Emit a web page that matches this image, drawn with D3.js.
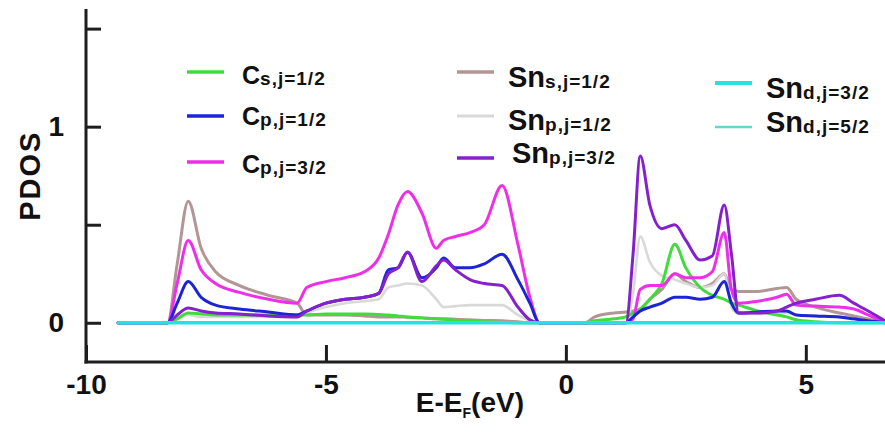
<!DOCTYPE html>
<html>
<head>
<meta charset="utf-8">
<script src="https://cdn.jsdelivr.net/npm/d3@7"></script>
<style>
  html, body { margin: 0; padding: 0; background: #fff; }
  svg { display: block; font-family: "Liberation Sans", Arial, sans-serif; }
</style>
</head>
<body>
<svg id="chart" width="885" height="433"></svg>
<script>
// Energy grid relative to the Fermi level (eV)
const energy = [-9.33, -8.3, -8.1, -7.87, -7.6, -7.3, -6.8, -6.2, -5.6, -5.4,
  -5.0, -4.6, -4.2, -3.9, -3.7, -3.5, -3.3, -3.0, -2.7, -2.55,
  -2.3, -2.0, -1.7, -1.33, -1.0, -0.75, -0.55, 0.4, 0.6, 1.0,
  1.25, 1.4, 1.55, 1.75, 2.0, 2.27, 2.5, 2.8, 3.05, 3.3,
  3.45, 3.6, 4.0, 4.4, 4.6, 4.8, 5.2, 5.7, 6.0, 6.3, 6.65];

// Projected DOS per orbital channel
const cS12 = [0, 0, 0.02, 0.05, 0.045, 0.04, 0.04, 0.04, 0.04, 0.04,
  0.045, 0.045, 0.045, 0.042, 0.04, 0.035, 0.03, 0.025, 0.02, 0.018,
  0.012, 0.008, 0.005, 0.002, 0, 0, 0, 0, 0.01, 0.02,
  0.03, 0.05, 0.07, 0.12, 0.2, 0.4, 0.28, 0.18, 0.14, 0.12,
  0.1, 0.09, 0.06, 0.04, 0.03, 0.015, 0.005, 0, 0, 0, 0];
const cP12 = [0, 0, 0.1, 0.21, 0.13, 0.09, 0.07, 0.055, 0.04, 0.06,
  0.1, 0.12, 0.13, 0.15, 0.27, 0.28, 0.36, 0.23, 0.28, 0.33,
  0.28, 0.28, 0.3, 0.35, 0.22, 0.1, 0, 0, 0, 0,
  0, 0.03, 0.06, 0.08, 0.1, 0.13, 0.13, 0.12, 0.13, 0.21,
  0.1, 0.05, 0.055, 0.06, 0.06, 0.04, 0.035, 0.03, 0.02, 0.01, 0];
const cP32 = [0, 0, 0.2, 0.42, 0.27, 0.2, 0.155, 0.12, 0.1, 0.18,
  0.21, 0.23, 0.26, 0.33, 0.45, 0.6, 0.67, 0.56, 0.38, 0.42,
  0.44, 0.46, 0.5, 0.7, 0.4, 0.13, 0, 0, 0, 0,
  0, 0.02, 0.17, 0.19, 0.19, 0.25, 0.23, 0.23, 0.26, 0.46,
  0.17, 0.1, 0.11, 0.13, 0.145, 0.09, 0.085, 0.08, 0.07, 0.04, 0];
const snS12 = [0, 0, 0.3, 0.62, 0.38, 0.26, 0.19, 0.14, 0.1, 0.04,
  0.04, 0.04, 0.035, 0.03, 0.03, 0.03, 0.028, 0.025, 0.02, 0.02,
  0.018, 0.015, 0.012, 0.01, 0.005, 0, 0, 0, 0.03, 0.05,
  0.055, 0.06, 0.07, 0.12, 0.17, 0.25, 0.21, 0.18, 0.2, 0.25,
  0.17, 0.16, 0.16, 0.175, 0.18, 0.12, 0.08, 0.05, 0.035, 0.02, 0];
const snP12 = [0, 0, 0.02, 0.04, 0.03, 0.03, 0.03, 0.03, 0.03, 0.05,
  0.08, 0.1, 0.11, 0.12, 0.18, 0.19, 0.2, 0.19, 0.12, 0.08,
  0.085, 0.09, 0.09, 0.09, 0.04, 0.01, 0, 0, 0, 0,
  0, 0.15, 0.44, 0.31, 0.24, 0.22, 0.2, 0.18, 0.19, 0.25,
  0.08, 0.045, 0.045, 0.05, 0.05, 0.04, 0.035, 0.03, 0.02, 0.01, 0];
const snP32 = [0, 0, 0.04, 0.075, 0.06, 0.05, 0.045, 0.035, 0.03, 0.06,
  0.1, 0.12, 0.13, 0.15, 0.25, 0.28, 0.36, 0.21, 0.29, 0.32,
  0.27, 0.22, 0.2, 0.19, 0.08, 0.015, 0, 0, 0, 0,
  0, 0.35, 0.85, 0.6, 0.48, 0.5, 0.42, 0.32, 0.34, 0.6,
  0.35, 0.05, 0.05, 0.06, 0.08, 0.1, 0.12, 0.14, 0.1, 0.06, 0.01];
const snD32 = [0, 0, 0, 0, 0, 0, 0, 0, 0, 0,
  0, 0, 0, 0, 0, 0, 0, 0, 0, 0,
  0, 0, 0, 0, 0, 0, 0, 0, 0, 0,
  0, 0, 0, 0, 0, 0, 0, 0, 0, 0,
  0, 0, 0, 0, 0, 0, 0, 0, 0, 0, 0];
const snD52 = [0, 0, 0, 0, 0, 0, 0, 0, 0, 0,
  0, 0, 0, 0, 0, 0, 0, 0, 0, 0,
  0, 0, 0, 0, 0, 0, 0, 0, 0, 0,
  0, 0, 0, 0, 0, 0, 0, 0, 0, 0,
  0, 0, 0, 0, 0, 0, 0, 0, 0, 0, 0];

const xTicks = [-10, -5, 0, 5];
const yTicks = [0, 0.5, 1, 1.5];
const yTickLabels = { 0: "0", 1: "1" };

// Series definitions: element, orbital label, values, styling
const series = [
  { el: "Sn", sub: "s,j=1/2", values: snS12, color: "#b39595", width: 3,   col: 1, row: 0 },
  { el: "Sn", sub: "p,j=1/2", values: snP12, color: "#d9d9d9", width: 2.6, col: 1, row: 1 },
  { el: "C",  sub: "s,j=1/2", values: cS12,  color: "#3fdc3c", width: 3,   col: 0, row: 0 },
  { el: "C",  sub: "p,j=3/2", values: cP32,  color: "#ee2ee9", width: 3,   col: 0, row: 2 },
  { el: "C",  sub: "p,j=1/2", values: cP12,  color: "#1c24d6", width: 3,   col: 0, row: 1 },
  { el: "Sn", sub: "p,j=3/2", values: snP32, color: "#8420cc", width: 3,   col: 1, row: 2 },
  { el: "Sn", sub: "d,j=5/2", values: snD52, color: "#5fd9cc", width: 2,   col: 2, row: 1 },
  { el: "Sn", sub: "d,j=3/2", values: snD32, color: "#22e2e6", width: 3.5, col: 2, row: 0 }
];

const svg = d3.select("#chart");
const x = d3.scaleLinear().domain([-10, 6.65]).range([86, 885]);
const y = d3.scaleLinear().domain([-0.2, 1.6]).range([362, 9]);

// Curves
const line = d3.line()
  .x((d, i) => x(energy[i]))
  .y(d => y(d))
  .curve(d3.curveMonotoneX);

const plot = svg.append("g");
series.forEach(s => {
  plot.append("path")
    .attr("d", line(s.values))
    .attr("fill", "none")
    .attr("stroke", s.color)
    .attr("stroke-width", s.width)
    .attr("stroke-linejoin", "round")
    .attr("stroke-linecap", "round");
});

// Axes
const axisColor = "#1e1e1e";
const yAxis = d3.axisLeft(y).tickValues(yTicks).tickSize(-15)
  .tickFormat(d => yTickLabels[d] || "").tickPadding(22);
const gy = svg.append("g").attr("transform", `translate(${x(-10)},0)`).call(yAxis);
gy.select(".domain").remove();
gy.selectAll(".tick line").attr("stroke", axisColor).attr("stroke-width", 3);
gy.selectAll(".tick text")
  .attr("fill", "#111").attr("font-size", 28).attr("font-weight", "bold")
  .attr("font-family", "Liberation Sans, Arial, sans-serif");

const xAxis = d3.axisBottom(x).tickValues(xTicks).tickSize(-17)
  .tickFormat(d3.format("d")).tickPadding(12);
const gx = svg.append("g").attr("transform", `translate(0,${y(-0.2)})`).call(xAxis);
gx.select(".domain").remove();
gx.selectAll(".tick line").attr("stroke", axisColor).attr("stroke-width", 3);
gx.selectAll(".tick text")
  .attr("fill", "#111").attr("font-size", 28).attr("font-weight", "bold")
  .attr("font-family", "Liberation Sans, Arial, sans-serif")
  .text(d => d < 0 ? "-" + Math.abs(d) : String(d));

// Axis lines
svg.append("line")
  .attr("x1", x(-10)).attr("x2", x(-10))
  .attr("y1", y(1.6)).attr("y2", y(-0.2) + 1.5)
  .attr("stroke", axisColor).attr("stroke-width", 3);
svg.append("line")
  .attr("x1", x(-10) - 1.5).attr("x2", 885)
  .attr("y1", y(-0.2)).attr("y2", y(-0.2))
  .attr("stroke", axisColor).attr("stroke-width", 3);

// Axis titles
svg.append("text")
  .attr("transform", `translate(40,${(y(0) + y(1.5)) / 2}) rotate(-90)`)
  .attr("text-anchor", "middle")
  .attr("font-size", 29).attr("font-weight", "bold").attr("fill", "#111")
  .attr("letter-spacing", 2)
  .text("PDOS");

const xt = svg.append("text")
  .attr("x", x(-2)).attr("y", 412)
  .attr("text-anchor", "middle")
  .attr("font-size", 28).attr("font-weight", "bold").attr("fill", "#111");
xt.append("tspan").text("E-E");
xt.append("tspan").attr("font-size", 14).attr("dy", 6).text("F");
xt.append("tspan").attr("dy", -6).text("(eV)");

// Legend
const legendCols = [
  { lx: 187, tx: 242, rows: [72, 116, 162], base: [84, 125, 173], elSize: 25 },
  { lx: 457, tx: 508, rows: [72, 116, 158], base: [87, 130, 163], elSize: 29 },
  { lx: 715, tx: 766, rows: [83, 127], base: [98, 132], elSize: 29 }
];
series.forEach(s => {
  const c = legendCols[s.col];
  const ly = c.rows[s.row];
  svg.append("line")
    .attr("x1", c.lx).attr("x2", c.lx + 37)
    .attr("y1", ly).attr("y2", ly)
    .attr("stroke", s.color).attr("stroke-width", s.width + 0.5);
  const t = svg.append("text")
    .attr("x", s.col === 1 && s.row === 2 ? c.tx + 4 : c.tx)
    .attr("y", c.base[s.row])
    .attr("font-weight", "bold").attr("fill", "#111");
  t.append("tspan").attr("font-size", c.elSize).text(s.el);
  t.append("tspan").attr("font-size", 19).attr("dy", 1).attr("letter-spacing", 1).text(s.sub);
});
</script>
</body>
</html>
